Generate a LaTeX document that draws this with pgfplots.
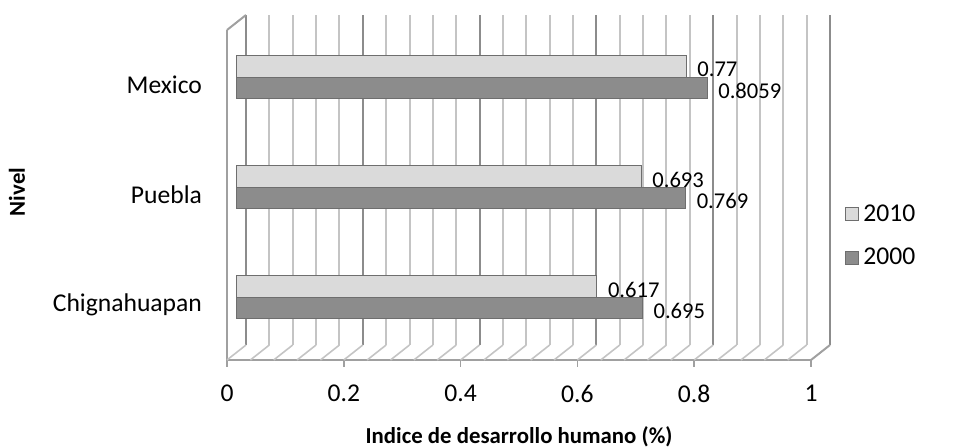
\documentclass[border=0pt]{standalone}
\usepackage{fontspec}
\setmainfont{Carlito}
\usepackage{pgfplots}
\usepackage{pgfplotstable}
\pgfplotsset{compat=1.18}

\definecolor{minorgrid}{HTML}{C4C4C4}
\definecolor{majorgrid}{HTML}{8C8C8C}
\definecolor{wallline}{HTML}{A0A0A0}
\definecolor{barline}{HTML}{6E6E6E}
\definecolor{lightbar}{HTML}{DADADA}
\definecolor{darkbar}{HTML}{8C8C8C}

% categories: 0 = Chignahuapan, 1 = Puebla, 2 = Mexico
\pgfplotstableread{
cat y2010 y2000
0 0.617 0.695
1 0.693 0.769
2 0.77  0.8059
}\idhtable

\pgfplotsset{
  base/.style={
    scale only axis, width=292pt, height=165pt,
    xmin=0, xmax=1, ymin=-0.5, ymax=2.5, clip=false,
    font=\fontsize{12.8}{15}\selectfont,
    /pgf/number format/assume math mode=true,
  },
}

\begin{document}
\begin{tikzpicture}
\useasboundingbox (0,0) rectangle (487pt,224pt);

% back wall with the grid
\begin{axis}[base, at={(123pt,51.5pt)}, anchor=south west,
  axis line style={draw=none},
  xtick={0,0.2,...,1}, minor x tick num=4, ytick=\empty,
  xticklabels={}, tick style={draw=none},
  xmajorgrids, xminorgrids,
  major grid style={majorgrid, line width=1pt},
  minor grid style={minorgrid, line width=1pt},
]
\addplot[draw=none] coordinates {(0,0)};
\end{axis}

% front: floor, left wall, ticks and labels
\begin{axis}[base, at={(113.5pt,44pt)}, anchor=south west,
  axis x line*=bottom, axis y line*=left,
  axis line style={-, wallline, line width=1pt},
  xtick={0,0.2,...,1}, tick align=outside, major tick length=3.5pt,
  x tick style={wallline, line width=0.8pt},
  ytick={0,1,2}, yticklabels={Chignahuapan,Puebla,Mexico},
  y tick style={draw=none},
  yticklabel style={anchor=east, xshift=-5.5pt},
  xticklabel style={yshift=-5.5pt},
  xlabel={Indice de desarrollo humano (\%)},
  ylabel={Nivel},
  xlabel style={font=\bfseries\fontsize{11.4}{13}\selectfont,
    at={(axis description cs:0.5,-0.2333)}, anchor=center},
  ylabel style={font=\bfseries\fontsize{11.4}{13}\selectfont,
    at={(axis description cs:-0.3596,0.509)}, anchor=center},
]
\addplot[draw=none] coordinates {(0,0)};
\pgfplotsinvokeforeach{0,0.04,0.08,0.12,0.16,0.2,0.24,0.28,0.32,0.36,0.4,0.44,0.48,0.52,0.56,0.6,0.64,0.68,0.72,0.76,0.8,0.84,0.88,0.92,0.96}{
  \draw[minorgrid, line width=0.8pt] (axis cs:#1,-0.5) -- ++(9.5pt,7.5pt);
}
\draw[wallline, line width=1pt] (axis cs:1,-0.5) -- ++(9.5pt,7.5pt);
\draw[wallline, line width=1pt] (axis cs:0,2.5) -- ++(9.5pt,7.5pt);
\end{axis}

% middle depth: the bars
\begin{axis}[base, at={(118.25pt,47.75pt)}, anchor=south west,
  xbar, bar width=10.75pt,
  axis line style={draw=none}, xtick=\empty, ytick=\empty,
  nodes near coords,
  nodes near coords style={font=\fontsize{11.3}{13}\selectfont,
    anchor=west, xshift=2pt, yshift=-1.5pt,
    /pgf/number format/precision=4},
  legend style={draw=none, fill=none, at={(axis description cs:1.042,0.353)},
    anchor=west, row sep=8pt, font=\fontsize{12.8}{15}\selectfont,
    inner sep=0pt},
  legend cell align=left,
  legend image code/.code={\draw[#1] (0pt,-3.25pt) rectangle (6.5pt,3.25pt);},
]
\addplot[bar shift=5.375pt, draw=barline, line width=0.5pt, fill=lightbar]
  table[x=y2010, y=cat] {\idhtable};
\addplot[bar shift=-5.375pt, draw=barline, line width=0.5pt, fill=darkbar]
  table[x=y2000, y=cat] {\idhtable};
\legend{2010,2000}
\end{axis}
\end{tikzpicture}
\end{document}
